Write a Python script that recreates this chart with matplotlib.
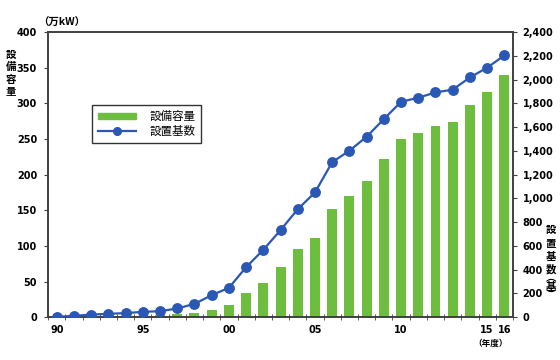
import matplotlib
matplotlib.use("Agg")
import matplotlib.pyplot as plt
from matplotlib.lines import Line2D
from matplotlib.patches import Patch

plt.rcParams["font.family"] = ["DejaVu Sans", "Noto Sans CJK JP"]

JP = ["Noto Sans CJK JP", "DejaVu Sans"]

# fiscal years 1990-2016
years = list(range(1990, 2017))
capacity = [0.2, 0.3, 0.4, 0.6, 1.0, 1.5, 2.5, 4.5, 6.5, 10.5, 16.5,
            33.5, 48.5, 71, 95, 111, 151.5, 170.5, 191, 221.5, 250.5,
            259, 267.5, 274, 297, 315.5, 339.5]
units = [3, 11, 22, 28, 34, 45, 50, 73, 112, 185, 247,
         421, 567, 733, 909, 1050, 1305, 1401, 1519, 1667, 1813,
         1847, 1892, 1915, 2018, 2100, 2203]
tick_years = [1990, 1995, 2000, 2005, 2010, 2015, 2016]
tick_labels = ["90", "95", "00", "05", "10", "15", "16"]

GREEN = "#6dbe3e"
BLUE = "#2b57b5"
SPINE = "#404040"

W, H = 560, 360
fig = plt.figure(figsize=(5.6, 3.6), dpi=100)
ax = fig.add_axes([0.086, 0.119, 0.830, 0.792])
ax2 = ax.twinx()

x = list(range(len(years)))
ax.bar(x, capacity, width=0.58, color=GREEN, zorder=2)
ax2.plot(x, units, color=BLUE, lw=1.6, marker="o", ms=6.8, zorder=3)

ax.set_xlim(-0.5, len(years) - 0.5)
ax.set_ylim(0, 400)
ax2.set_ylim(0, 2400)
ax.set_yticks(range(0, 401, 50))
ax2.set_yticks(range(0, 2401, 200))
ax2.set_yticklabels([f"{v:,}" for v in range(0, 2401, 200)])

# category style: labels centred, ticks on boundaries
ax.set_xticks([years.index(y) for y in tick_years])
ax.set_xticklabels(tick_labels)
ax.set_xticks([i - 0.5 for i in range(len(years) + 1)], minor=True)
ax.tick_params(axis="x", which="major", length=0, pad=6)
ax.tick_params(axis="x", which="minor", length=4, direction="inout", color=SPINE)

for a in (ax, ax2):
    for s in a.spines.values():
        s.set_color(SPINE)
        s.set_linewidth(1.2)
    for lab in a.get_xticklabels() + a.get_yticklabels():
        lab.set_fontweight("bold")
        lab.set_fontsize(7)
ax.tick_params(axis="y", length=3, color=SPINE, pad=5)
ax2.tick_params(axis="y", length=3, color=SPINE, pad=4)


def px(xp, yp):
    return xp / W, 1 - yp / H


fig.text(*px(62, 23), "（万kW）", family=JP, fontsize=7.5, fontweight="bold",
         ha="center", va="center")
for ch, yp in zip("設備容量", [55, 67, 80, 92]):
    fig.text(*px(11, yp), ch, family=JP, fontsize=7.5, fontweight="bold",
             ha="center", va="center")
for ch, yp in zip(["設", "置", "基", "数", "︵", "基", "︶"],
                  [230, 244, 257, 269, 278, 287, 296]):
    fig.text(*px(551, yp), ch, family=JP, fontsize=7.5, fontweight="bold",
             ha="center", va="center")
fig.text(*px(491, 343), "（年度）", family=JP, fontsize=6.2, fontweight="bold",
         ha="center", va="center")

handles = [Patch(color=GREEN),
           Line2D([], [], color=BLUE, lw=1.6, marker="o", ms=5.5)]
leg = ax2.legend(handles, ["設備容量", "設置基数"], loc="upper left",
                 bbox_to_anchor=(0.095, 0.745), prop={"family": JP, "size": 8.3},
                 frameon=True, fancybox=False, edgecolor="black",
                 handlelength=3.3, handleheight=0.5, borderpad=0.45,
                 labelspacing=0.15, handletextpad=1.2, borderaxespad=0)
leg.get_frame().set_linewidth(1.0)

fig.savefig("out.png", dpi=100)
